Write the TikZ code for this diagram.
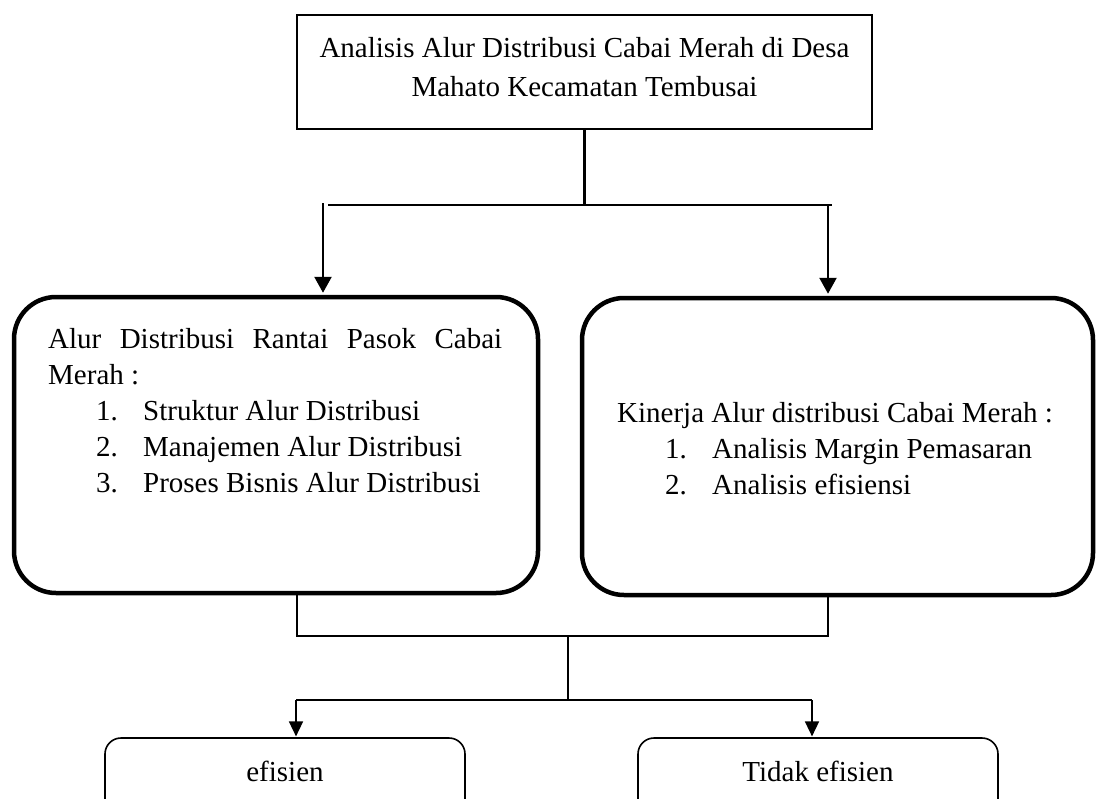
\documentclass[tikz,border=0pt]{standalone}
\usepackage{fontspec}
\setmainfont{Liberation Serif}
\usetikzlibrary{arrows.meta}
\begin{document}
\begin{tikzpicture}[x=1pt,y=-1pt,
  thinbox/.style={draw, line width=2pt, minimum width=575pt, minimum height=114pt, inner sep=0pt},
  bigbox/.style={draw, line width=4.5pt, rounded corners=42pt, inner sep=0pt},
  smallbox/.style={draw, line width=1.6pt, rounded corners=16pt, inner sep=0pt, minimum width=360pt, minimum height=100pt},
  txt/.style={font=\fontsize{29}{36}\selectfont, inner sep=0pt},
  conn/.style={line width=2.2pt},
  arr/.style={line width=2.5pt, -{Triangle[length=16pt,width=17pt]}, shorten >=2pt},
  conn2/.style={line width=1.6pt},
  arr2/.style={line width=1.6pt, -{Triangle[length=15pt,width=14pt]}, shorten >=0.8pt},
]
\useasboundingbox (0,0) rectangle (1097,798);
\clip (0,0) rectangle (1097,798);

% boxes
\node[thinbox] (top) at (584.5,72) {};
\node[txt, align=center] (toptext) at (584.5,67) {Analisis Alur Distribusi Cabai Merah di Desa\\[3pt]Mahato Kecamatan Tembusai};

\node[bigbox, minimum width=524pt, minimum height=296pt] (lbox) at (276,445) {};
\node[bigbox, minimum width=511pt, minimum height=297pt] (rbox) at (837.5,446.5) {};

\node[txt, anchor=north west, align=left] (ltext) at (48,328) {\hbox to 454pt{Alur\hfill Distribusi\hfill Rantai\hfill Pasok\hfill Cabai}\\
Merah :\\
\hspace*{48pt}\makebox[47pt][l]{1.}Struktur Alur Distribusi\\
\hspace*{48pt}\makebox[47pt][l]{2.}Manajemen Alur Distribusi\\
\hspace*{48pt}\makebox[47pt][l]{3.}Proses Bisnis Alur Distribusi};

\node[txt, anchor=north west, align=left] (rtext) at (617,402) {Kinerja Alur distribusi Cabai Merah :\\
\hspace*{48pt}\makebox[47pt][l]{1.}Analisis Margin Pemasaran\\
\hspace*{48pt}\makebox[47pt][l]{2.}Analisis efisiensi};

\node[smallbox] (eff) at (285,788) {};
\node[smallbox] (teff) at (818,788) {};
\node[txt] (efftext) at (285,771) {efisien};
\node[txt] (tefftext) at (818,771) {Tidak efisien};

% top connectors
\coordinate (hl) at (328,205);
\coordinate (hr) at (832,205);
\coordinate (al) at (323,203);
\coordinate (ar) at (828,205);
\draw[conn] (top.south) -- (top.south |- hl);
\draw[conn] (hl) -- (hr);
\draw[arr] (al) -- (al |- lbox.north);
\draw[arr] (ar) -- (ar |- rbox.north);

% bottom connectors
\coordinate (b1l) at (297,636);
\coordinate (b1r) at (828,636);
\coordinate (m1) at (568,636);
\coordinate (m2) at (568,700);
\coordinate (h2l) at (296,700);
\coordinate (h2r) at (812,700);
\draw[conn2] (lbox.south -| b1l) -- (b1l) -- (b1r) -- (rbox.south -| b1r);
\draw[conn2] (m1) -- (m2);
\draw[conn2] (h2l) -- (h2r);
\draw[arr2] (h2l) -- (h2l |- eff.north);
\draw[arr2] (h2r) -- (h2r |- teff.north);
\end{tikzpicture}
\end{document}
